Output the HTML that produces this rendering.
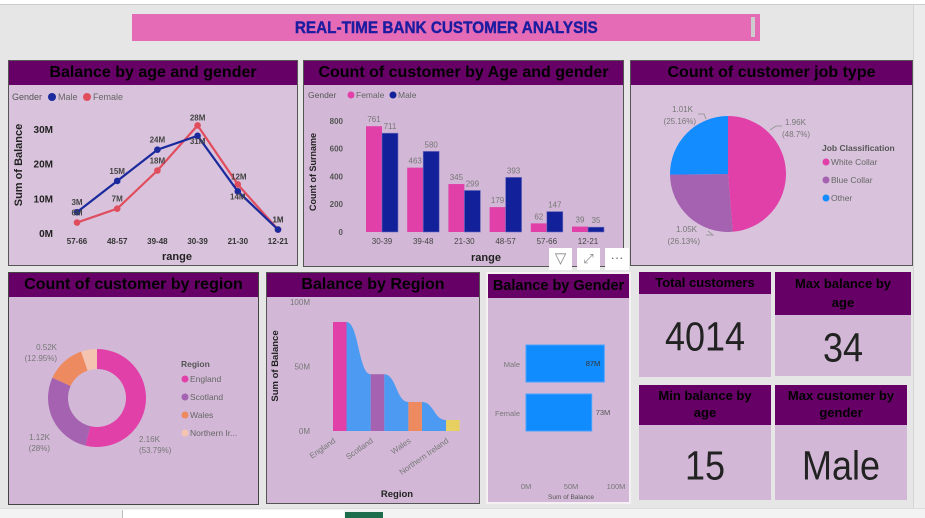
<!DOCTYPE html>
<html><head><meta charset="utf-8"><style>
body{margin:0;width:925px;height:518px;overflow:hidden;background:#e6e6e6;font-family:"Liberation Sans",sans-serif;position:relative}
.abs{position:absolute;box-sizing:border-box}
.hdr{background:#660066;color:#000;font-weight:bold;text-align:center;font-size:16px;line-height:24px;white-space:nowrap}
.kv{font-family:"Liberation Sans",sans-serif;color:#222;text-align:center;transform:scaleY(1.12)}
svg text{font-family:"Liberation Sans",sans-serif}
</style></head><body>
<div class="abs" style="left:0;top:0;width:925px;height:5px;background:#fff;border-bottom:1px solid #ccc"></div>
<div class="abs" style="left:913px;top:5px;width:12px;height:503px;background:#ececec;border-left:1px solid #d6d6d6"></div>
<div class="abs" style="left:0;top:508px;width:925px;height:10px;background:#f3f3f3;border-top:1px solid #ddd"></div>
<div class="abs" style="left:122px;top:510px;width:222px;height:8px;background:#fff;border-left:1px solid #bbb"></div>
<div class="abs" style="left:345px;top:512px;width:38px;height:6px;background:#1e6e4e"></div>

<div class="abs" style="left:132px;top:14px;width:628px;height:27px;background:#e56bb6;text-align:center;line-height:28px;color:#1c1ca0;font-weight:bold;font-size:17px"><span style="display:inline-block;transform:scaleX(0.9);-webkit-text-stroke:0.4px #1c1ca0">REAL-TIME BANK CUSTOMER ANALYSIS</span></div>
<div class="abs" style="left:751px;top:17px;width:4px;height:20px;background:#ccc"></div>

<div class="abs" style="left:8px;top:60px;width:290px;height:206px;background:#d9c2dc;border:1px solid #555"><div class="hdr">Balance by age and gender</div></div>
<div class="abs" style="left:303px;top:60px;width:321px;height:207px;background:#d2b8d6;border:1px solid #555"><div class="hdr">Count of customer by Age and gender</div></div>
<div class="abs" style="left:630px;top:60px;width:283px;height:206px;background:#d9c2dc;border:1px solid #555"><div class="hdr">Count of customer job type</div></div>
<div class="abs" style="left:8px;top:272px;width:251px;height:233px;background:#d2b8d6;border:1px solid #444"><div class="hdr">Count of customer by region</div></div>
<div class="abs" style="left:266px;top:272px;width:214px;height:232px;background:#d2b8d6;border:1px solid #555"><div class="hdr">Balance by Region</div></div>
<div class="abs" style="left:486px;top:272px;width:145px;height:232px;background:#d2b8d6;border:2px solid #f4f0f4"><div class="hdr" style="font-size:14.5px">Balance by Gender</div></div>

<div class="abs" style="left:639px;top:272px;width:132px;height:105px;background:#d2b8d6"><div class="hdr" style="font-size:13px;line-height:22px;height:22px">Total customers</div><div class="kv" style="font-size:36px;margin-top:22px">4014</div></div>
<div class="abs" style="left:775px;top:272px;width:136px;height:104px;background:#d2b8d6"><div class="hdr" style="font-size:13px;line-height:19px;height:41px;padding-top:2px">Max balance by<br>age</div><div class="kv" style="font-size:36px;margin-top:12px">34</div></div>
<div class="abs" style="left:639px;top:385px;width:132px;height:115px;background:#d2b8d6"><div class="hdr" style="font-size:13px;line-height:17px;height:38px;padding-top:2px">Min balance by<br>age</div><div class="kv" style="font-size:36px;margin-top:20px">15</div></div>
<div class="abs" style="left:775px;top:385px;width:132px;height:115px;background:#d2b8d6"><div class="hdr" style="font-size:13px;line-height:17px;height:38px;padding-top:2px">Max customer by<br>gender</div><div class="kv" style="font-size:36px;margin-top:20px">Male</div></div>

<div class="abs" style="left:549px;top:248px;width:80px;height:22px">
<div class="abs" style="left:0;top:0;width:23px;height:22px;background:#fff;color:#888;text-align:center;font-size:15px;line-height:22px">&#x25BD;</div>
<div class="abs" style="left:28px;top:0;width:23px;height:22px;background:#fff;color:#888;text-align:center;font-size:13px;line-height:22px">&#x2922;</div>
<div class="abs" style="left:56px;top:0;width:24px;height:22px;background:#fff;color:#666;text-align:center;font-size:13px;line-height:20px">&#xB7;&#xB7;&#xB7;</div>
</div>

<svg id="chart" class="abs" style="left:0;top:0" width="925" height="518"></svg>

<script>
// Line chart data
const lineCats = ["57-66","48-57","39-48","30-39","21-30","12-21"];
const lineMale = [6,15,24,28,12,1];
const lineFemale = [3,7,18,31,14,1];
const lineMaleLbl = ["3M","15M","24M","31M","14M","1M"];
const lineFemaleLbl = ["6M","7M","18M","28M","12M","1M"];
const lineTicks = [0,10,20,30];
// Bar chart data
const barCats = ["30-39","39-48","21-30","48-57","57-66","12-21"];
const barFemale = [761,463,345,179,62,39];
const barMale = [711,580,299,393,147,35];
const barTicks = [0,200,400,600,800];
// Pie data
const jobNames = ["White Collar","Blue Collar","Other"];
const jobValues = [1955,1049,1010];
const jobLabels = ["1.96K","1.05K","1.01K"];
const jobPct = ["(48.7%)","(26.13%)","(25.16%)"];
// Donut data
const regNames = ["England","Scotland","Wales","Northern Ir..."];
const regValues = [2159,1124,520,211];
// Ribbon data
const ribCats = ["England","Scotland","Wales","Northern Ireland"];
const ribValues = [84.5,44,22.5,8.5];
const ribTicks = [0,50,100];
// Gender bars
const genCats = ["Male","Female"];
const genValues = [87,73];
const genTicks = [0,50,100];

const NS="http://www.w3.org/2000/svg";
const svg=document.getElementById('chart');
function mk(tag,attrs,parent){const e=document.createElementNS(NS,tag);for(const k in attrs)e.setAttribute(k,attrs[k]);(parent||svg).appendChild(e);return e;}
function tx(x,y,s,attrs){const e=mk('text',Object.assign({x:x,y:y},attrs||{}));e.textContent=s;return e;}

// ---- Line chart
const lx=i=>77+i*40.2, ly=v=>233-v*3.47;
let t=tx(12,100,"Gender",{"font-size":9,fill:"#555"});

mk('circle',{cx:52,cy:97,r:4,fill:"#1a2a9c"});t=tx(58,100,"Male",{"font-size":9,fill:"#666"});

mk('circle',{cx:87,cy:97,r:4,fill:"#e04e5e"});t=tx(93,100,"Female",{"font-size":9,fill:"#666"});

lineTicks.forEach(v=>{const e=tx(53,ly(v)+4,v+"M",{"font-size":10,"font-weight":"bold","text-anchor":"end",fill:"#222"});
});
lineCats.forEach((c,i)=>{const e=tx(lx(i),244,c,{"font-size":8,"font-weight":"bold","text-anchor":"middle",fill:"#333"});
});
t=tx(177,260,"range",{"font-size":11,"font-weight":"bold","text-anchor":"middle",fill:"#222"});

t=tx(0,0,"Sum of Balance",{"font-size":11,"font-weight":"bold","text-anchor":"middle",fill:"#222",transform:"translate(22,165) rotate(-90)"});

[[lineFemale,"#e04e5e",lineFemaleLbl],[lineMale,"#1a2a9c",lineMaleLbl]].forEach(([arr,col,lb],si)=>{
 const p=mk('polyline',{points:arr.map((v,i)=>lx(i)+","+ly(v)).join(" "),fill:"none",stroke:col,"stroke-width":2.2});
 
 arr.forEach((v,i)=>{const c=mk('circle',{cx:lx(i),cy:ly(v),r:3.3,fill:col});
 });
});
lineMale.forEach((v,i)=>{
 const y=lineMale[i]>=lineFemale[i]?ly(v)-7:ly(v)+8;
 const e=tx(lx(i),y,lineMaleLbl[i],{"font-size":8,fill:"#444","text-anchor":"middle","font-weight":"bold"});
 });
lineFemale.forEach((v,i)=>{const y=lineFemale[i]>lineMale[i]?ly(v)-5:ly(v)-7;
 const e=tx(lx(i)+(i==4?1:0),y,lineFemaleLbl[i],{"font-size":8,fill:"#444","text-anchor":"middle","font-weight":"bold"});
 });

// ---- Bar chart
const bx=i=>382+i*41.2, by=v=>232-v*0.139;
t=tx(308,98,"Gender",{"font-size":8.5,fill:"#555"});
mk('circle',{cx:351,cy:95,r:3.5,fill:"#e040a8"});t=tx(356,98,"Female",{"font-size":8.5,fill:"#666"});

mk('circle',{cx:393,cy:95,r:3.5,fill:"#12209a"});t=tx(398,98,"Male",{"font-size":8.5,fill:"#666"});

barTicks.forEach(v=>{const e=tx(343,by(v)+3,v,{"font-size":8,"font-weight":"bold","text-anchor":"end",fill:"#555"});
});
t=tx(0,0,"Count of Surname",{"font-size":9,"font-weight":"bold","text-anchor":"middle",fill:"#222",transform:"translate(316,172) rotate(-90)"});

t=tx(486,261,"range",{"font-size":11,"font-weight":"bold","text-anchor":"middle",fill:"#222"});

barCats.forEach((c,i)=>{
 const f=mk('rect',{x:bx(i)-16,y:by(barFemale[i]),width:16,height:barFemale[i]*0.139,fill:"#e040a8"});
 
 const m=mk('rect',{x:bx(i),y:by(barMale[i]),width:16,height:barMale[i]*0.139,fill:"#12209a",stroke:"#7070c0","stroke-width":0.6});
 
 let e=tx(bx(i)-8,by(barFemale[i])-4,barFemale[i],{"font-size":8,fill:"#777","text-anchor":"middle"});
 
 e=tx(bx(i)+8,by(barMale[i])-4,barMale[i],{"font-size":8,fill:"#777","text-anchor":"middle"});
 
 e=tx(bx(i),244,c,{"font-size":8,fill:"#444","text-anchor":"middle"});
 
});

// ---- Pie
const pieCols=["#e040a8","#a462b0","#138cff"];
function arcPath(cx,cy,r,r0,a0,a1){const p=(a,rr)=>[cx+rr*Math.sin(a),cy-rr*Math.cos(a)];
 const lg=a1-a0>Math.PI?1:0;const [x0,y0]=p(a0,r),[x1,y1]=p(a1,r);
 if(!r0)return `M${cx},${cy}L${x0},${y0}A${r},${r} 0 ${lg} 1 ${x1},${y1}Z`;
 const [x2,y2]=p(a1,r0),[x3,y3]=p(a0,r0);
 return `M${x0},${y0}A${r},${r} 0 ${lg} 1 ${x1},${y1}L${x2},${y2}A${r0},${r0} 0 ${lg} 0 ${x3},${y3}Z`;}
let tot=jobValues.reduce((a,b)=>a+b,0),a=0;
jobValues.forEach((v,i)=>{const a1=a+v/tot*2*Math.PI;
 const s=mk('path',{d:arcPath(728,174,58,0,a,a1),fill:pieCols[i]});
 a=a1;});
const pieLbl=[[785,125,"start"],[697,232,"end"],[693,112,"end"]];
jobLabels.forEach((l,i)=>{const [x,y,an]=pieLbl[i];
 let e=tx(x,y,l,{"font-size":8,fill:"#777","text-anchor":an});
 e=tx(x+(an=="start"?-3:3),y+12,jobPct[i],{"font-size":8,fill:"#777","text-anchor":an});});
mk('polyline',{points:"770,130 776,126 782,126",fill:"none",stroke:"#999"});
mk('polyline',{points:"706,235 713,235 708,231",fill:"none",stroke:"#999"});
mk('polyline',{points:"698,114 704,114 706,119",fill:"none",stroke:"#999"});
t=tx(822,151,"Job Classification",{"font-size":8.5,"font-weight":"bold",fill:"#555"});
jobNames.forEach((n,i)=>{mk('circle',{cx:826,cy:162+i*18,r:3.5,fill:pieCols[i]});
 const e=tx(831,165+i*18,n,{"font-size":8.5,fill:"#666"});});

// ---- Donut
const donCols=["#e040a8","#a462b0","#ee8a60","#f5c4b0"];
tot=regValues.reduce((x,y)=>x+y,0);a=0;
regValues.forEach((v,i)=>{const a1=a+v/tot*2*Math.PI;
 const s=mk('path',{d:arcPath(97,398,49,29,a,a1),fill:donCols[i]});
 a=a1;});
[[139,442,"2.16K","(53.79%)","start"],[50,440,"1.12K","(28%)","end"],[57,350,"0.52K","(12.95%)","end"]].forEach(([x,y,l,p,an])=>{
 let e=tx(x,y,l,{"font-size":8,fill:"#777","text-anchor":an});
 e=tx(x,y+11,p,{"font-size":8,fill:"#777","text-anchor":an});});
t=tx(181,367,"Region",{"font-size":8.5,"font-weight":"bold",fill:"#555"});
regNames.forEach((n,i)=>{mk('circle',{cx:185,cy:379+i*18,r:3.5,fill:donCols[i]});
 const e=tx(190,382+i*18,n,{"font-size":8.5,fill:"#666"});});

// ---- Ribbon chart
const rx=i=>333+i*37.7, ry=v=>431-v*1.29, rw=13.5;
const ribCols=["#e040a8","#a462b0","#ee8a60","#e8d060"];
ribTicks.forEach(v=>{const e=tx(310,ry(v)+3,v+"M",{"font-size":8,fill:"#777","text-anchor":"end"});
});
for(let i=0;i<ribValues.length-1;i++){const x0=rx(i)+rw,x1=rx(i+1),m=(x0+x1)/2;
 const r=mk('path',{d:`M${x0},${ry(ribValues[i])}C${m},${ry(ribValues[i])} ${m},${ry(ribValues[i+1])} ${x1},${ry(ribValues[i+1])}L${x1},${ry(0)}L${x0},${ry(0)}Z`,fill:"#4d9af2"});
 }
ribCats.forEach((c,i)=>{const b=mk('rect',{x:rx(i),y:ry(ribValues[i]),width:rw,height:ribValues[i]*1.29,fill:ribCols[i]});
 
 const e=tx(0,0,c,{"font-size":8,fill:"#777","text-anchor":"end",transform:`translate(${rx(i)+3},${ry(0)+11}) rotate(-35)`});
 });
t=tx(397,497,"Region",{"font-size":9.5,"font-weight":"bold",fill:"#222","text-anchor":"middle"});
t=tx(0,0,"Sum of Balance",{"font-size":9.5,"font-weight":"bold",fill:"#222","text-anchor":"middle",transform:"translate(278,366) rotate(-90)"});


// ---- Gender bars
const gx=v=>526+v*0.9, gy=i=>345+i*49;
genCats.forEach((c,i)=>{const b=mk('rect',{x:gx(0),y:gy(i),width:genValues[i]*0.9,height:37,fill:"#118cff",stroke:"#4aa0ff"});
 
 let e=tx(520,gy(i)+22,c,{"font-size":7.5,fill:"#777","text-anchor":"end"});
 const inside=genValues[i]>80;
 e=tx(inside?gx(genValues[i])-4:gx(genValues[i])+4,gy(i)+21,genValues[i]+"M",{"font-size":7.5,fill:inside?"#333":"#555","text-anchor":inside?"end":"start"});
 });
genTicks.forEach(v=>{const e=tx(gx(v),489,v+"M",{"font-size":7.5,fill:"#777","text-anchor":"middle"});
 });
t=tx(571,499,"Sum of Balance",{"font-size":6.5,fill:"#555","text-anchor":"middle"});
</script>
</body></html>
